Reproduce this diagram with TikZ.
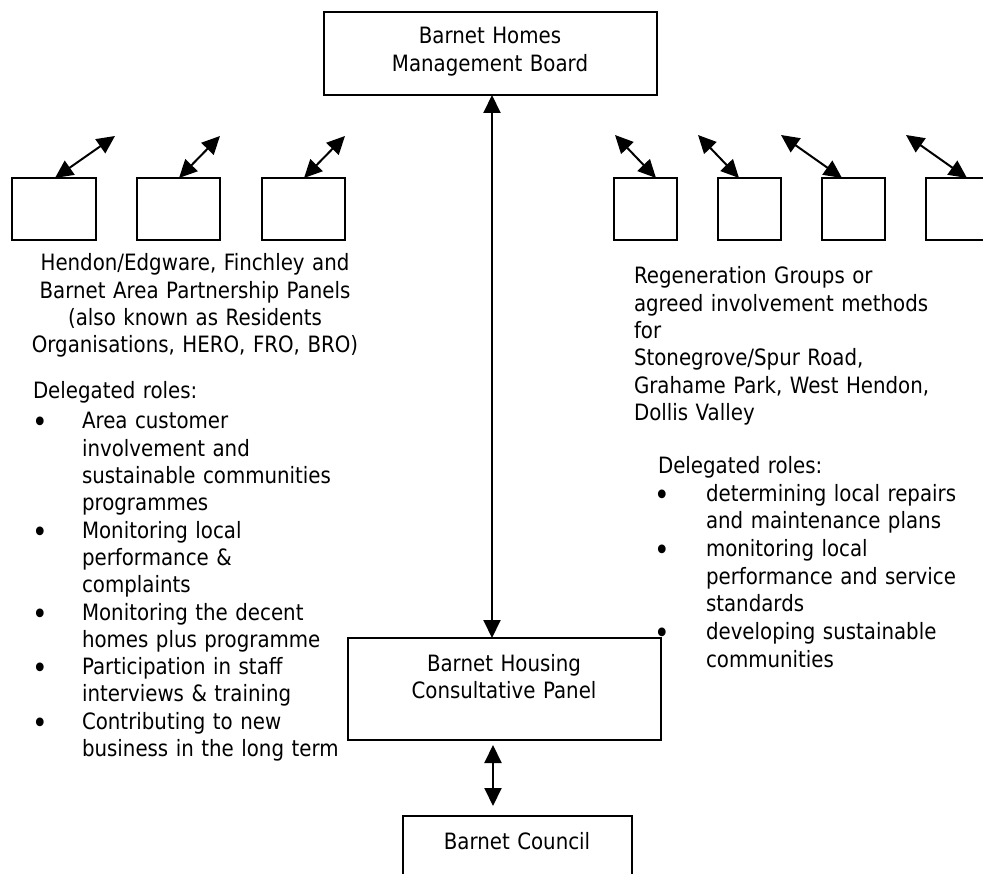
\documentclass[tikz,border=0pt]{standalone}
\usepackage{fontspec}
\setmainfont{DejaVu Sans}[FakeStretch=0.88]
\usetikzlibrary{arrows.meta}
\begin{document}
\begin{tikzpicture}[x=1pt,y=-1pt,
  every node/.style={font=\fontsize{22.5}{27.3}\selectfont, inner sep=0pt, outer sep=0pt},
  box/.style={draw, line width=2pt, minimum width=#1},
  dblarrow/.style={line width=2pt, {Triangle[length=18pt,width=17pt]}-{Triangle[length=18pt,width=17pt]}},
  txt/.style={anchor=base west, align=left, text width=#1},
  ctxt/.style={anchor=base, align=center, text width=#1},
  bul/.style={anchor=base, font=\fontsize{30}{30}\selectfont}]
\useasboundingbox (0,0) rectangle (983,874);
\clip (0,0) rectangle (983,874);
\fill[white] (0,0) rectangle (983,874);

% main boxes
\node[box=333pt, minimum height=83pt] (board) at (490.5,53.5) {};
\node[ctxt=320pt] (boardtxt) at (490,44) {Barnet Homes\\Management Board};
\node[box=313pt, minimum height=102pt] (panel) at (504.5,689) {};
\node[ctxt=310pt] (paneltxt) at (504,671) {Barnet Housing\\Consultative Panel};
\node[box=229pt, minimum height=120pt] (council) at (517.5,876) {};
\node[ctxt=220pt] (counciltxt) at (517,849) {Barnet Council};

% left small boxes
\node[box=84pt, minimum height=62pt] (l1) at (54,209) {};
\node[box=83pt, minimum height=62pt] (l2) at (178.5,209) {};
\node[box=83pt, minimum height=62pt] (l3) at (303.5,209) {};
% right small boxes
\node[box=63pt, minimum height=62pt] (r1) at (645.5,209) {};
\node[box=63pt, minimum height=62pt] (r2) at (749.5,209) {};
\node[box=63pt, minimum height=62pt] (r3) at (853.5,209) {};
\node[box=63pt, minimum height=62pt] (r4) at (957.5,209) {};

% free ends of the small arrows
\coordinate (l1a) at (55,178);  \coordinate (l1b) at (115,136);
\coordinate (l2a) at (179,178); \coordinate (l2b) at (220,136);
\coordinate (l3a) at (304,178); \coordinate (l3b) at (345,136);
\coordinate (r1a) at (656,178); \coordinate (r1b) at (615,135);
\coordinate (r2a) at (739,178); \coordinate (r2b) at (698,135);
\coordinate (r3a) at (842,178); \coordinate (r3b) at (781,135);
\coordinate (r4a) at (967,178); \coordinate (r4b) at (906,135);
\foreach \n in {l1,l2,l3,r1,r2,r3,r4} {\draw[dblarrow] (\n a) -- (\n b);}

% vertical arrows
\draw[dblarrow] (board.south -| 492,0) -- (panel.north -| 492,0);
\coordinate (pc1) at (493,745);
\coordinate (pc2) at (493,806);
\draw[dblarrow] (pc1) -- (pc2);

% left texts
\node[ctxt=340pt] (lefttitle) at (195,271) {Hendon/Edgware, Finchley and\\Barnet Area Partnership Panels\\(also known as Residents\\Organisations, HERO, FRO, BRO)};
\node[txt=250pt] (leftdel) at (33,399) {Delegated roles:};
\node[txt=260pt] (leftlist) at (82,429) {Area customer\\involvement and\\sustainable communities\\programmes\\Monitoring local\\performance \&\\complaints\\Monitoring the decent\\homes plus programme\\Participation in staff\\interviews \& training\\Contributing to new\\business in the long term};
\node[bul] (lb1) at (40,433) {•};
\node[bul] (lb2) at (40,542.2) {•};
\node[bul] (lb3) at (40,624.1) {•};
\node[bul] (lb4) at (40,678.7) {•};
\node[bul] (lb5) at (40,733.3) {•};

% right texts
\node[txt=340pt] (righttitle) at (634,284) {Regeneration Groups or\\agreed involvement methods\\for\\Stonegrove/Spur Road,\\Grahame Park, West Hendon,\\Dollis Valley};
\node[txt=300pt] (rightdel) at (658,474) {Delegated roles:};
\node[txt=280pt, font=\fontsize{22.5}{27.7}\selectfont] (rightlist) at (706,501) {determining local repairs\\and maintenance plans\\monitoring local\\performance and service\\standards\\developing sustainable\\communities};
\node[bul] (rb1) at (662,505) {•};
\node[bul] (rb2) at (662,560.4) {•};
\node[bul] (rb3) at (662,643.5) {•};
\end{tikzpicture}
\end{document}
